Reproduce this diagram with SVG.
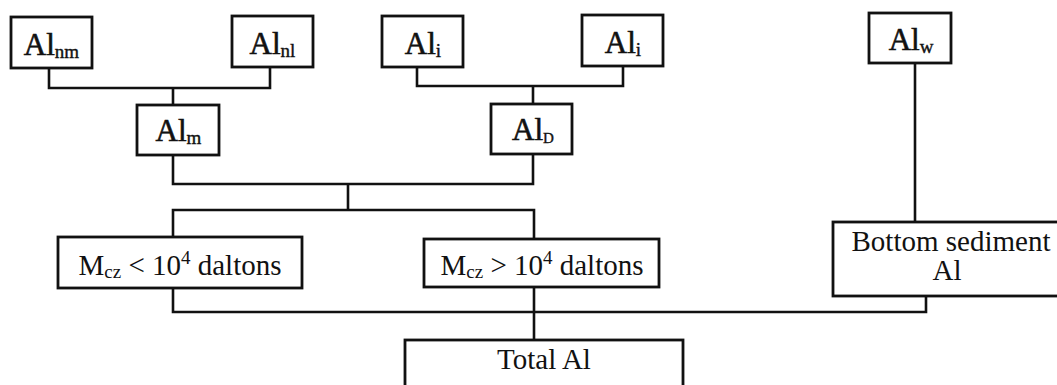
<svg xmlns="http://www.w3.org/2000/svg" width="1057" height="385" viewBox="0 0 1057 385">
<style>
.box{fill:#fff;stroke:#111;stroke-width:2.8}
.con{fill:none;stroke:#111;stroke-width:2.6;stroke-linejoin:miter}
.al{font-family:"Liberation Serif","DejaVu Serif",serif;font-size:31px;fill:#111;stroke:#111;stroke-width:0.6;text-anchor:middle}
.sub{font-size:19px;stroke-width:0.4}
.lbl{font-family:"Liberation Serif","DejaVu Serif",serif;font-size:29px;fill:#111;text-anchor:middle}
.s2{font-size:19px}
</style>
<rect width="1057" height="385" fill="#fff"/>
<g id="connectors">
<path class="con" d="M49,68 V88 H270 V67 M173,88 V105"/>
<path class="con" d="M417,67 V86 H623 V66 M533,86 V104"/>
<path class="con" d="M173,155 V184 H533 V154 M348,184 V210"/>
<path class="con" d="M173,237 V210 H534 V239"/>
<path class="con" d="M173,288 V312 H926 V296 M534,287 V340"/>
<path class="con" d="M915,63 V222"/>
</g>
<g id="Al_nm"><rect class="box" x="11" y="17" width="81" height="51"/><text class="al" x="51.5" y="55">Al<tspan class="sub" dy="3">nm</tspan></text></g>
<g id="Al_nl"><rect class="box" x="232" y="16" width="81" height="51"/><text class="al" x="272.5" y="54">Al<tspan class="sub" dy="3">nl</tspan></text></g>
<g id="Al_i1"><rect class="box" x="382" y="16" width="81" height="51"/><text class="al" x="423" y="54">Al<tspan class="sub" dy="3">i</tspan></text></g>
<g id="Al_i2"><rect class="box" x="582" y="15" width="81" height="51"/><text class="al" x="623" y="53">Al<tspan class="sub" dy="3">i</tspan></text></g>
<g id="Al_w"><rect class="box" x="869" y="13" width="82" height="50"/><text class="al" x="911" y="50">Al<tspan class="sub" dy="3">w</tspan></text></g>
<g id="Al_m"><rect class="box" x="137" y="105" width="82" height="50"/><text class="al" x="178.5" y="141">Al<tspan class="sub" dy="3">m</tspan></text></g>
<g id="Al_D"><rect class="box" x="491" y="104" width="81" height="50"/><text class="al" x="533" y="140">Al<tspan class="sub" dy="3" style="font-size:15px">D</tspan></text></g>
<g id="Mcz_lt"><rect class="box" x="58" y="237" width="244" height="51"/><text class="lbl" x="180" y="275">M<tspan class="s2" dy="3">cz</tspan><tspan dy="-3"> &lt; 10</tspan><tspan class="s2" dy="-11">4</tspan><tspan dy="11"> daltons</tspan></text></g>
<g id="Mcz_gt"><rect class="box" x="424" y="239" width="235" height="48"/><text class="lbl" x="542" y="275">M<tspan class="s2" dy="3">cz</tspan><tspan dy="-3"> &gt; 10</tspan><tspan class="s2" dy="-11">4</tspan><tspan dy="11"> daltons</tspan></text></g>
<g id="bottom_sediment"><rect class="box" x="833" y="222" width="240" height="74"/><text class="lbl" x="951" y="251">Bottom sediment</text><text class="lbl" x="947" y="280">Al</text></g>
<g id="total_al"><rect class="box" x="405" y="340" width="278" height="60"/><text class="lbl" x="544" y="369">Total Al</text></g>
</svg>
